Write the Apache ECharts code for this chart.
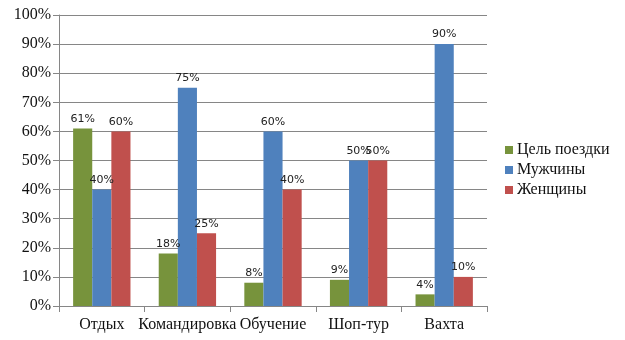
<!DOCTYPE html>
<html>
<head>
<meta charset="utf-8">
<script src="https://cdn.jsdelivr.net/npm/echarts@6/dist/echarts.min.js"></script>
<style>
  html, body { margin: 0; padding: 0; background: #fff; }
  #chart { width: 625px; height: 340px; }
</style>
</head>
<body>
<div id="chart"></div>
<script>
// Trip purposes and shares (percent)
const categories = ['Отдых', 'Командировка', 'Обучение', 'Шоп-тур', 'Вахта'];
const purpose = [61, 18, 8, 9, 4];
const men = [40, 75, 60, 50, 90];
const women = [60, 25, 40, 50, 10];
const seriesNames = ['Цель поездки', 'Мужчины', 'Женщины'];
const colors = ['#77933C', '#4F81BD', '#C0504D'];

const chart = echarts.init(document.getElementById('chart'), null, { renderer: 'canvas' });

const labelStyle = {
  show: true,
  position: 'top',
  distance: 4,
  formatter: p => p.value + '%',
  fontFamily: 'DejaVu Sans',
  fontSize: 11,
  color: '#222'
};

function makeSeries(name, data, color) {
  return {
    name: name,
    type: 'bar',
    data: data,
    barGap: 0,
    barCategoryGap: '33%',
    itemStyle: { color: color },
    label: labelStyle
  };
}

chart.setOption({
  animation: false,
  color: colors,
  grid: { left: 59, right: 138, top: 15, bottom: 34, containLabel: false },
  legend: {
    orient: 'vertical',
    left: 505,
    top: 142,
    padding: [0, 0, 0, 0],
    itemWidth: 8,
    itemHeight: 8,
    itemGap: 4,
    icon: 'rect',
    textStyle: { fontFamily: 'Liberation Serif', fontSize: 16, color: '#111', padding: [0, 0, 0, -1] },
    data: seriesNames
  },
  xAxis: {
    type: 'category',
    data: categories,
    boundaryGap: true,
    axisLine: { lineStyle: { color: '#868686', width: 1 } },
    axisTick: { show: true, length: 6, alignWithLabel: false, lineStyle: { color: '#868686' } },
    axisLabel: { fontFamily: 'Liberation Serif', fontSize: 16, color: '#111', margin: 11, interval: 0 }
  },
  yAxis: {
    type: 'value',
    min: 0,
    max: 100,
    interval: 10,
    axisLine: { show: true, lineStyle: { color: '#868686', width: 1 } },
    axisTick: { show: true, length: 6, lineStyle: { color: '#868686' } },
    splitLine: { lineStyle: { color: '#868686', width: 1 } },
    axisLabel: { fontFamily: 'Liberation Serif', fontSize: 16, color: '#111', margin: 8, formatter: '{value}%' }
  },
  series: [
    makeSeries(seriesNames[0], purpose, colors[0]),
    makeSeries(seriesNames[1], men, colors[1]),
    makeSeries(seriesNames[2], women, colors[2])
  ]
});
</script>
</body>
</html>
